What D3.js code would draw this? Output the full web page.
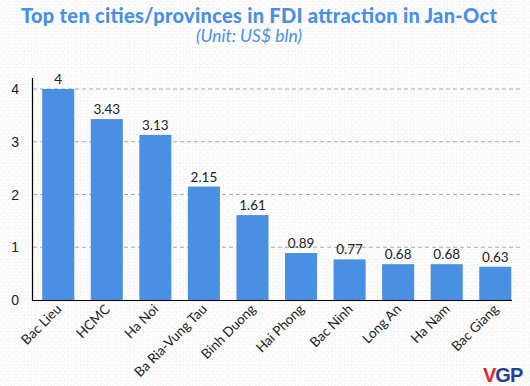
<!DOCTYPE html>
<html>
<head>
<meta charset="utf-8">
<script src="https://cdn.jsdelivr.net/npm/d3@7"></script>
<style>
  body { margin: 0; background: #fff; }
</style>
</head>
<body>
<div id="chart"></div>
<script>
const cities = ["Bac Lieu", "HCMC", "Ha Noi", "Ba Ria-Vung Tau", "Binh Duong",
    "Hai Phong", "Bac Ninh", "Long An", "Ha Nam", "Bac Giang"];
const fdi = [4, 3.43, 3.13, 2.15, 1.61, 0.89, 0.77, 0.68, 0.68, 0.63];
const yTicks = [0, 1, 2, 3, 4];

const width = 530, height = 386;
const blue = "#4a90e2";

let svg = d3.select("#chart")
    .append("svg")
    .attr("width", width)
    .attr("height", height);

// dotted square background
let pat = svg.append("defs").append("pattern")
    .attr("id", "bg")
    .attr("width", 6.6)
    .attr("height", 6.6)
    .attr("patternUnits", "userSpaceOnUse");
pat.append("rect")
    .attr("x", 1).attr("y", 1)
    .attr("width", 4.2).attr("height", 4.2)
    .attr("rx", 1)
    .attr("fill", "none")
    .attr("stroke", "#ededed")
    .attr("stroke-width", 0.8);
svg.append("rect")
    .attr("width", width)
    .attr("height", height)
    .attr("fill", "url(#bg)");

let x = d3.scaleBand()
    .domain(cities)
    .range([32.5, 521])
    .paddingInner(0.34)
    .paddingOuter(0.2);

let y = d3.scaleLinear()
    .domain([0, 4])
    .range([300, 89]);

// grid
svg.append("g")
    .selectAll("line")
    .data(yTicks.filter(d => d > 0))
    .join("line")
    .attr("x1", 33)
    .attr("x2", 522)
    .attr("y1", d => y(d))
    .attr("y2", d => y(d))
    .attr("stroke", "#aaa")
    .attr("stroke-dasharray", "4,3");

// y tick labels
svg.append("g")
    .selectAll("text")
    .data(yTicks)
    .join("text")
    .attr("x", 19)
    .attr("y", d => y(d) + 5)
    .attr("text-anchor", "end")
    .style("font-family", "Liberation Sans, Arial, sans-serif")
    .style("font-size", "14px")
    .attr("fill", "#222")
    .text(d => d);

// bars
svg.append("g")
    .selectAll("rect")
    .data(fdi)
    .join("rect")
    .attr("x", (d, i) => x(cities[i]))
    .attr("y", d => y(d))
    .attr("width", x.bandwidth())
    .attr("height", d => y(0) - y(d))
    .attr("fill", blue);

// value labels
svg.append("g")
    .selectAll("text")
    .data(fdi)
    .join("text")
    .attr("x", (d, i) => x(cities[i]) + x.bandwidth() / 2)
    .attr("y", d => y(d) - 5)
    .attr("text-anchor", "middle")
    .style("font-family", "Lato, sans-serif")
    .style("font-size", "13.5px")
    .attr("fill", "#222")
    .text(d => d);

// axes lines
svg.append("line")
    .attr("x1", 32.5).attr("x2", 32.5)
    .attr("y1", 78).attr("y2", 300.5)
    .attr("stroke", "#000").attr("stroke-width", 1.2);
svg.append("line")
    .attr("x1", 32).attr("x2", 512)
    .attr("y1", 300.5).attr("y2", 300.5)
    .attr("stroke", "#000").attr("stroke-width", 1.2);

// x labels, rotated
svg.append("g")
    .selectAll("text")
    .data(cities)
    .join("text")
    .attr("transform", d => `translate(${x(d) + x.bandwidth() / 2 + 4}, 310) rotate(-45)`)
    .attr("text-anchor", "end")
    .style("font-family", "Lato, sans-serif")
    .style("font-size", "13.5px")
    .attr("fill", "#222")
    .text(d => d);

// titles
svg.append("text")
    .attr("x", 259)
    .attr("y", 22.5)
    .attr("text-anchor", "middle")
    .attr("textLength", 476)
    .attr("lengthAdjust", "spacing")
    .style("font-family", "Lato, sans-serif")
    .style("font-weight", "900")
    .style("font-size", "20px")
    .attr("fill", blue)
    .text("Top ten cities/provinces in FDI attraction in Jan-Oct");

svg.append("text")
    .attr("x", 249)
    .attr("y", 41.5)
    .attr("text-anchor", "middle")
    .style("font-family", "Lato, sans-serif")
    .style("font-style", "italic")
    .style("font-weight", "400")
    .style("font-size", "17.5px")
    .attr("fill", blue)
    .text("(Unit: US$ bln)");

// VGP mark
let logo = svg.append("text")
    .attr("x", 483)
    .attr("y", 382)
    .style("font-family", "Liberation Sans, Arial, sans-serif")
    .style("font-weight", "bold")
    .style("font-size", "20px")
    .style("letter-spacing", "-1px");
logo.append("tspan").attr("fill", "#e4262b").text("V");
logo.append("tspan").attr("fill", "#243f8f").text("GP");
</script>
</body>
</html>
